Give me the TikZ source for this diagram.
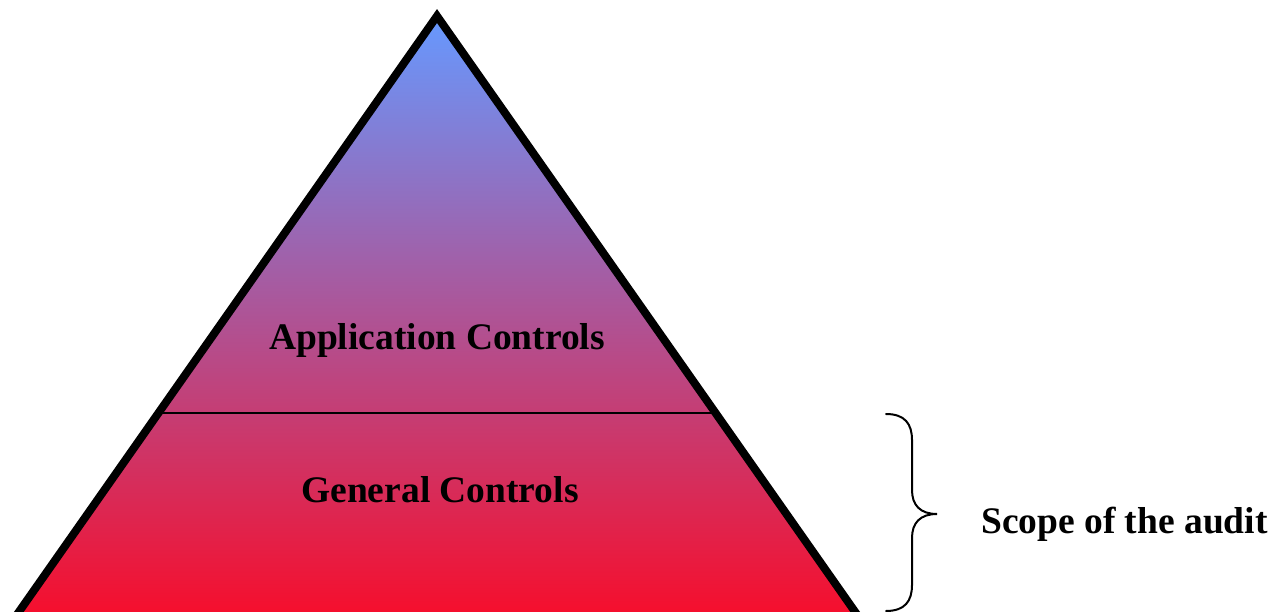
\documentclass[tikz,border=0pt]{standalone}
\usepackage{fontspec}
\setmainfont{Liberation Serif}
\usetikzlibrary{calc}
\definecolor{topblue}{RGB}{102,153,255}
\definecolor{midpurple}{RGB}{184,112,192}
\definecolor{botred}{RGB}{246,14,44}
\tikzset{
  label/.style={font=\fontsize{37.5}{44}\selectfont\bfseries, inner sep=0pt, anchor=base},
  outline/.style={line width=8pt, line join=miter, black},
  divider/.style={line width=2pt, black},
  bracepath/.style={line width=2pt, black, line cap=round}
}
\begin{document}
\begin{tikzpicture}[x=1pt,y=-1pt]
\useasboundingbox (0,0) rectangle (1284,612);
\clip (0,0) rectangle (1284,612);
\coordinate (apex) at (437,16);
\coordinate (bl) at (16,616);
\coordinate (br) at (858,616);
\shade[top color=topblue, middle color=midpurple, bottom color=botred] (apex) -- (br) -- (bl) -- cycle;
\coordinate (dl) at ($(bl)!0.3383!(apex)$);
\coordinate (dr) at ($(br)!0.3383!(apex)$);
\draw[divider] (dl) -- (dr);
\draw[outline] (apex) -- (br) -- (bl) -- cycle;
\node[label] (app) at (437,349) {Application Controls};
\node[label] (gen) at (440,502) {General Controls};
\node[label, anchor=base west] (scope) at (981,533) {Scope of the audit};
\coordinate (btop) at (886,414);
\coordinate (btip) at (937,514);
\coordinate (bbot) at (886,611);
\draw[bracepath] (btop) .. controls (905,414) and (912,424) .. (912,440)
  -- (912,490) .. controls (912,505) and (920,514) .. (btip)
  .. controls (920,514) and (912,523) .. (912,538)
  -- (912,585) .. controls (912,601) and (905,611) .. (bbot);
\end{tikzpicture}
\end{document}
